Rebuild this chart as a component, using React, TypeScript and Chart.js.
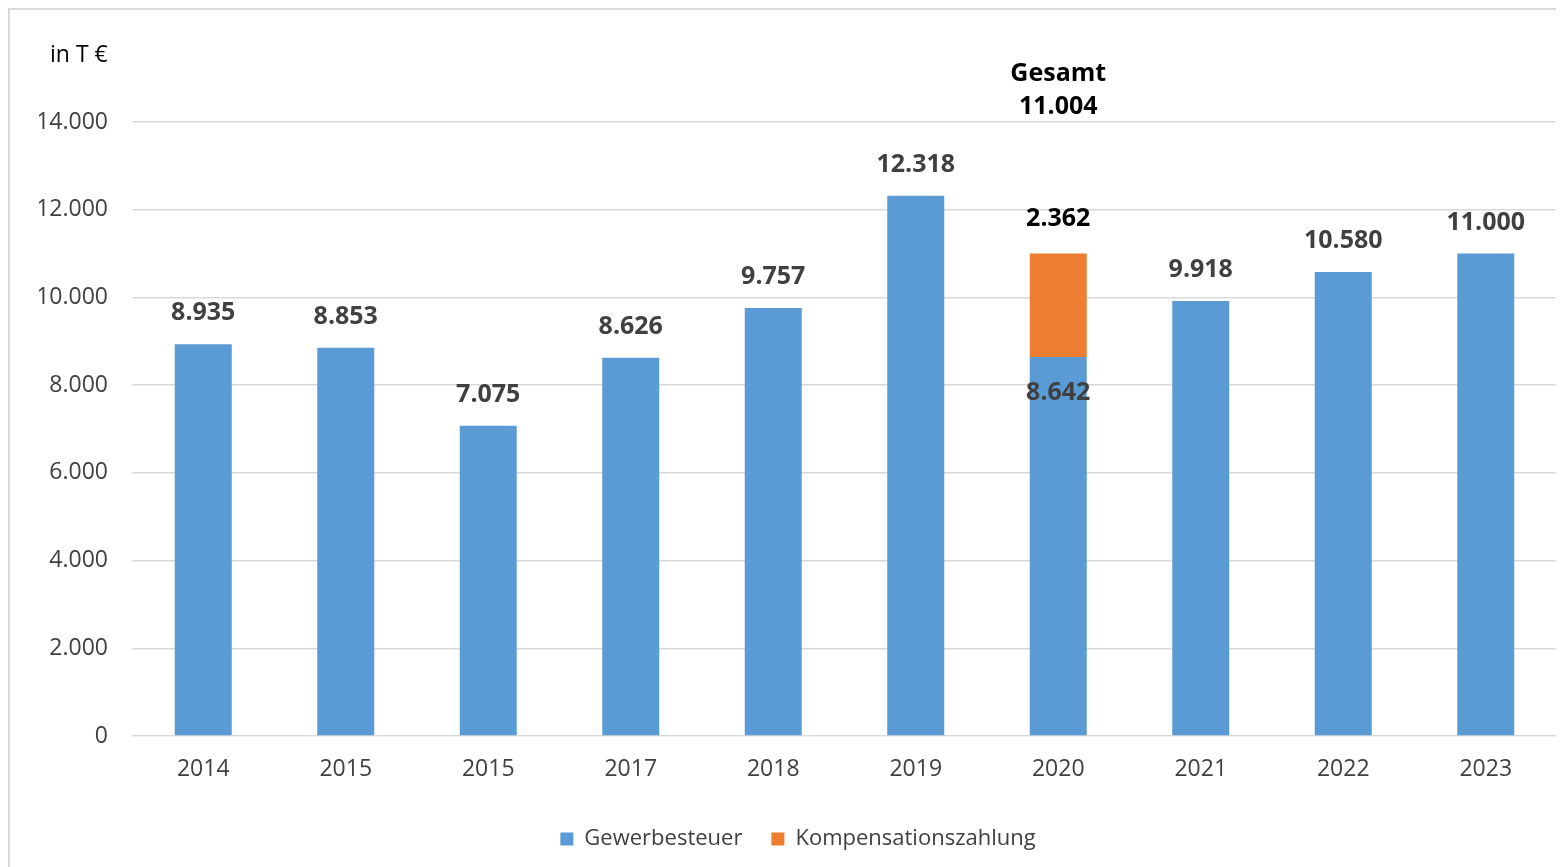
import React, { useEffect, useRef } from "react";
import { Chart, registerables } from "chart.js";

Chart.register(...registerables);

const categories = ["2014", "2015", "2015", "2017", "2018", "2019", "2020", "2021", "2022", "2023"];
const gewerbesteuer = [8935, 8853, 7075, 8626, 9757, 12318, 8642, 9918, 10580, 11000];
const kompensation: (number | null)[] = [null, null, null, null, null, null, 2362, null, null, null];
const seriesNames = ["Gewerbesteuer", "Kompensationszahlung"];
const unitLabel = "in T €";
const totalLabel = "Gesamt";
const yMin = 0;
const yMax = 14000;
const yStep = 2000;

const FONT = "'Open Sans', 'Noto Sans', sans-serif";
const BLUE = "#5B9BD5";
const ORANGE = "#ED7D31";
const TEXT = "#404040";

const fmt = (v: number) => String(Math.round(v)).replace(/\B(?=(\d{3})+(?!\d))/g, ".");

const labelPlugin = {
  id: "valueLabels",
  afterDatasetsDraw(chart: any) {
    const ctx = chart.ctx;
    const m0 = chart.getDatasetMeta(0);
    const m1 = chart.getDatasetMeta(1);
    ctx.save();
    ctx.textAlign = "center";
    ctx.textBaseline = "middle";
    ctx.font = `bold 25px ${FONT}`;
    categories.forEach((_, i) => {
      const b0 = m0.data[i];
      const k = kompensation[i];
      if (k == null) {
        ctx.fillStyle = TEXT;
        ctx.fillText(fmt(gewerbesteuer[i]), b0.x, b0.y - 31);
      } else {
        const b1 = m1.data[i];
        ctx.fillStyle = TEXT;
        ctx.fillText(fmt(gewerbesteuer[i]), b0.x, b0.y + 36);
        ctx.fillStyle = "#000000";
        ctx.fillText(fmt(k), b1.x, b1.y - 35);
        ctx.fillText(totalLabel, b1.x, b1.y - 180);
        ctx.fillText(fmt(gewerbesteuer[i] + k), b1.x, b1.y - 147);
      }
    });
    ctx.font = `23px ${FONT}`;
    ctx.textAlign = "left";
    ctx.fillStyle = "#000000";
    ctx.fillText(unitLabel, 40, 45);
    ctx.restore();
  },
};

export default function App() {
  const ref = useRef<HTMLCanvasElement | null>(null);

  useEffect(() => {
    document.body.style.overflow = "hidden";
    if (!ref.current) return;
    const chart = new Chart(ref.current, {
      type: "bar",
      data: {
        labels: categories,
        datasets: [
          {
            label: seriesNames[0],
            data: gewerbesteuer,
            backgroundColor: BLUE,
            borderWidth: 0,
            barPercentage: 0.4,
            categoryPercentage: 1,
          },
          {
            label: seriesNames[1],
            data: kompensation,
            backgroundColor: ORANGE,
            borderWidth: 0,
            barPercentage: 0.4,
            categoryPercentage: 1,
          },
        ],
      },
      options: {
        responsive: false,
        animation: false,
        devicePixelRatio: 1,
        layout: { padding: { top: 112, left: 29, right: 7, bottom: 7 } },
        plugins: {
          tooltip: { enabled: false },
          legend: {
            position: "bottom",
            labels: {
              boxWidth: 13,
              boxHeight: 13,
              padding: 29,
              color: TEXT,
              font: { size: 22, family: FONT },
            },
          },
        },
        scales: {
          x: {
            stacked: true,
            grid: { display: false, drawTicks: false },
            border: { display: false },
            ticks: { color: TEXT, font: { size: 23, family: FONT }, padding: 20 },
            afterFit: (s: any) => {
              s.height = 63;
            },
          },
          y: {
            stacked: true,
            min: yMin,
            max: yMax,
            grid: { color: "#d9d9d9", lineWidth: 1.5, drawTicks: false },
            border: { display: false },
            ticks: {
              stepSize: yStep,
              color: TEXT,
              padding: 24,
              font: { size: 23, family: FONT },
              callback: (v: any) => fmt(Number(v)),
            },
            afterFit: (s: any) => {
              s.width = 93;
            },
          },
        },
      },
      plugins: [labelPlugin],
    });
    return () => chart.destroy();
  }, []);

  return (
    <div
      style={{
        borderTop: "2px solid #d9d9d9",
        borderLeft: "2px solid #d9d9d9",
        width: 1554,
        height: 857,
        background: "#fff",
      }}
    >
      <canvas ref={ref} width={1554} height={857} style={{ display: "block" }} />
    </div>
  );
}
